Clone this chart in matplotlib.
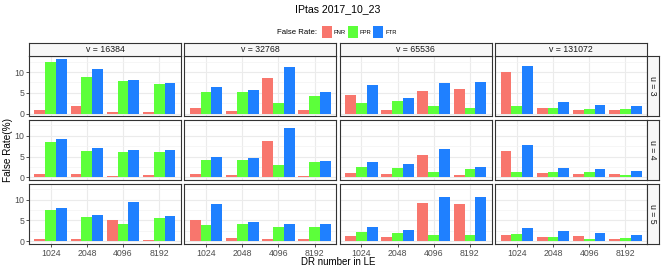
import matplotlib
matplotlib.use("Agg")
import matplotlib.pyplot as plt
from matplotlib.patches import Rectangle

plt.rcParams['font.family'] = ['Liberation Sans', 'DejaVu Sans']

dr_labels = ['1024', '2048', '4096', '8192']
v_values = [16384, 32768, 65536, 131072]
u_values = [3, 4, 5]
rate_names = ['FNR', 'FPR', 'FTR']
rate_colors = ['#F8766D', '#5CFF3A', '#1F80FF']

# indexed [u][v][dr]
fnr = [
    [[0.8, 1.8, 0.5, 0.3], [1.4, 0.6, 8.6, 0.8], [4.5, 0.9, 5.5, 5.9], [9.9, 1.4, 0.9, 0.8]],
    [[0.8, 0.8, 0.4, 0.6], [0.9, 0.5, 8.8, 0.3], [1.1, 0.9, 5.4, 0.6], [6.4, 1.1, 0.9, 0.9]],
    [[0.65, 0.5, 5.1, 0.4], [5.1, 0.7, 0.6, 0.6], [1.2, 1.0, 9.1, 9.0], [1.5, 1.1, 1.2, 0.65]],
]
fpr = [
    [[12.5, 8.8, 7.8, 7.1], [5.1, 5.3, 2.6, 4.3], [2.6, 3.0, 1.8, 1.4], [1.8, 1.4, 1.1, 1.1]],
    [[8.5, 6.4, 6.1, 6.0], [4.1, 4.1, 3.1, 3.6], [2.6, 2.3, 1.4, 2.0], [1.4, 1.4, 1.2, 0.7]],
    [[7.5, 5.8, 4.1, 5.6], [4.0, 4.1, 3.4, 3.4], [2.2, 1.9, 1.4, 1.5], [1.7, 1.1, 0.65, 0.7]],
]
ftr = [
    [[13.2, 10.7, 8.1, 7.4], [6.4, 5.7, 11.2, 5.1], [6.9, 3.8, 7.3, 7.5], [11.5, 2.7, 2.0, 1.9]],
    [[9.2, 7.2, 6.5, 6.5], [4.8, 4.6, 11.8, 4.0], [3.8, 3.2, 6.8, 2.6], [7.8, 2.3, 2.1, 1.6]],
    [[8.1, 6.4, 9.4, 6.0], [9.0, 4.6, 4.1, 4.1], [3.4, 2.8, 10.6, 10.6], [3.3, 2.4, 1.9, 1.5]],
]
series = [fnr, fpr, ftr]

W, H = 664, 268
fig = plt.figure(figsize=(W / 100, H / 100), dpi=100)


def rect(x0, y0, w, h):
    return [x0 / W, 1 - (y0 + h) / H, w / W, h / H]


left, right_edge = 29.0, 647.0
top, bottom = 56.0, 244.0
gap = 3.5
pw = (right_edge - left - 3 * gap) / 4
ph = (bottom - top - 2 * gap) / 3
strip_h = 13.0
strip_w = 12.0

ymax = max(max(max(max(r) for r in u) for u in s) for s in series)
ylo, yhi = -0.05 * ymax, ymax * 1.05

border_col = '#333333'
grid_col = '#EBEBEB'

for ui, u in enumerate(u_values):
    for vi, v in enumerate(v_values):
        x0 = left + vi * (pw + gap)
        y0 = top + ui * (ph + gap)
        ax = fig.add_axes(rect(x0, y0, pw, ph))
        ax.set_xlim(0.4, len(dr_labels) + 0.6)
        ax.set_ylim(ylo, yhi)
        ax.set_axisbelow(True)
        ax.set_yticks([0, 5, 10])
        ax.set_yticks([2.5, 7.5, 12.5], minor=True)
        ax.set_xticks(range(1, len(dr_labels) + 1))
        ax.grid(True, which='major', color=grid_col, linewidth=0.8)
        ax.grid(True, which='minor', axis='y', color='#F3F3F3', linewidth=0.5)
        for k in range(3):
            xs = [i + 1 + (k - 1) * 0.3 for i in range(len(dr_labels))]
            ax.bar(xs, series[k][ui][vi], width=0.3, color=rate_colors[k],
                   edgecolor='none')
        for sp in ax.spines.values():
            sp.set_color(border_col)
            sp.set_linewidth(0.8)
        ax.tick_params(which='minor', length=0)
        ax.tick_params(which='major', length=2.5, width=0.6, color=border_col,
                       labelsize=6.3, labelcolor='#4D4D4D', pad=1.0)
        if vi == 0:
            ax.set_yticklabels(['0', '5', '10'])
        else:
            ax.tick_params(axis='y', length=0, labelleft=False)
        if ui == len(u_values) - 1:
            ax.set_xticklabels(dr_labels)
        else:
            ax.tick_params(axis='x', length=0, labelbottom=False)

        if ui == 0:
            sax = fig.add_axes(rect(x0, y0 - strip_h, pw, strip_h))
            sax.set_xticks([]); sax.set_yticks([])
            sax.set_facecolor('#F7F7F7')
            for sp in sax.spines.values():
                sp.set_color(border_col); sp.set_linewidth(0.8)
            sax.text(0.5, 0.5, f'v = {v}', ha='center', va='center',
                     fontsize=6.3, color='#1A1A1A', transform=sax.transAxes)
        if vi == len(v_values) - 1:
            sax = fig.add_axes(rect(right_edge, y0, strip_w, ph))
            sax.set_xticks([]); sax.set_yticks([])
            sax.set_facecolor('#F7F7F7')
            for sp in sax.spines.values():
                sp.set_color(border_col); sp.set_linewidth(0.8)
            sax.text(0.5, 0.5, f'u = {u}', ha='center', va='center',
                     rotation=-90, fontsize=6.3, color='#1A1A1A',
                     transform=sax.transAxes)

cx = (left + right_edge) / 2
fig.text(cx / W, 1 - 9.5 / H, 'IPtas 2017_10_23', ha='center', va='center',
         fontsize=7.6)
fig.text(cx / W, 1 - 262 / H, 'DR number in LE', ha='center', va='center',
         fontsize=7.0)
fig.text(8 / W, 1 - ((top + bottom) / 2) / H, 'False Rate(%)', ha='center',
         va='center', rotation=90, fontsize=7.2)

# legend
ly = 32.0
fig.text(317 / W, 1 - ly / H, 'False Rate:', ha='right', va='center', fontsize=5.6)
kx = 322.0
for name, col in zip(rate_names, rate_colors):
    fig.patches.append(Rectangle(((kx) / W, 1 - (ly + 6) / H), 10 / W, 12 / H,
                                 transform=fig.transFigure, facecolor=col,
                                 edgecolor='none'))
    fig.text((kx + 12) / W, 1 - ly / H, name, ha='left', va='center',
             fontsize=4.2)
    kx += 25.5

fig.savefig('out.png', dpi=100)
